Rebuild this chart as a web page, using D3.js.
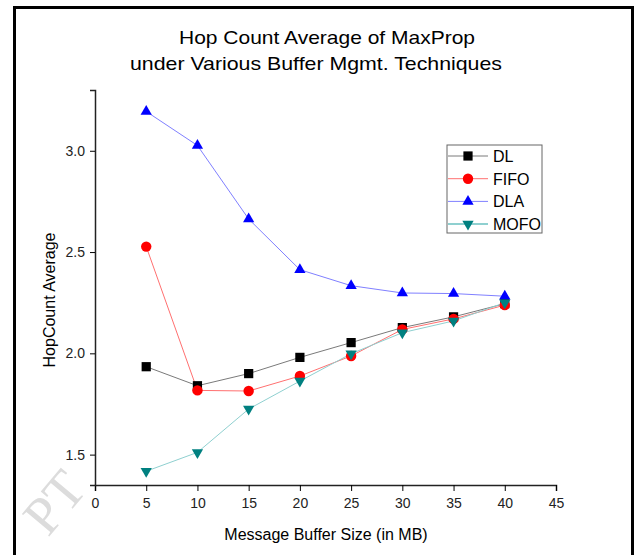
<!DOCTYPE html>
<html>
<head>
<meta charset="utf-8">
<script src="https://cdn.jsdelivr.net/npm/d3@7"></script>
<style>
  body { margin: 0; background: #fff; }
  text { font-family: "Liberation Sans", Arial, sans-serif; }
</style>
</head>
<body>
<div id="chart"></div>
<script>
// data
const bufferSizes = [5, 10, 15, 20, 25, 30, 35, 40];
const dlValues   = [1.934, 1.840, 1.900, 1.980, 2.053, 2.127, 2.180, 2.245];
const fifoValues = [2.527, 1.817, 1.814, 1.888, 1.987, 2.118, 2.170, 2.238];
const dlaValues  = [3.194, 3.026, 2.663, 2.413, 2.334, 2.298, 2.295, 2.282];
const mofoValues = [1.418, 1.511, 1.725, 1.863, 1.998, 2.102, 2.160, 2.250];
const seriesNames = ["DL", "FIFO", "DLA", "MOFO"];
const xTicks = [0, 5, 10, 15, 20, 25, 30, 35, 40, 45];
const yTicks = [1.5, 2.0, 2.5, 3.0];

const width = 638;
const height = 555;
const margin = {left: 95, right: 82, top: 90, bottom: 70};

const series = [
  {name: seriesNames[0], values: dlValues,   line: "#7a7a7a", fill: "#000000", shape: d3.symbolSquare,   size: 85,  rot: 0},
  {name: seriesNames[1], values: fifoValues, line: "#ff7070", fill: "#ff0000", shape: d3.symbolCircle,   size: 85,  rot: 0},
  {name: seriesNames[2], values: dlaValues,  line: "#8080ff", fill: "#0000ff", shape: d3.symbolTriangle, size: 55,  rot: 0},
  {name: seriesNames[3], values: mofoValues, line: "#8fd0d0", fill: "#008080", shape: d3.symbolTriangle, size: 55,  rot: 180}
];

const svg = d3.select("#chart")
  .append("svg")
  .attr("width", width)
  .attr("height", height);

// faint watermark of the source paper
svg.append("text")
  .attr("transform", "translate(48,538) rotate(-50)")
  .attr("font-size", 54)
  .attr("fill", "#dcdcdc")
  .style("font-family", "'Liberation Serif', serif")
  .text("PT");

// outer frame
svg.append("rect")
  .attr("x", 14.5).attr("y", 7.5)
  .attr("width", 618).attr("height", 600)
  .attr("fill", "none")
  .attr("stroke", "#000")
  .attr("stroke-width", 3);

// scales
const x = d3.scaleLinear().domain([0, 45]).range([margin.left, 556]);
const y = d3.scaleLinear().domain([1.35, 3.3]).range([485, margin.top]);

// title
svg.append("text")
  .attr("x", 327).attr("y", 44)
  .attr("text-anchor", "middle")
  .attr("font-size", 19)
  .attr("textLength", 296).attr("lengthAdjust", "spacingAndGlyphs")
  .text("Hop Count Average of MaxProp");
svg.append("text")
  .attr("x", 316).attr("y", 70)
  .attr("text-anchor", "middle")
  .attr("font-size", 19)
  .attr("textLength", 372).attr("lengthAdjust", "spacingAndGlyphs")
  .text("under Various Buffer Mgmt. Techniques");

// x axis with minor ticks
const xAxis = svg.append("g").attr("transform", `translate(0,485)`);
xAxis.call(d3.axisBottom(x).tickValues(d3.range(2.5, 45, 5)).tickSize(4).tickFormat(""));
xAxis.call(d3.axisBottom(x).tickValues(xTicks).tickSize(6).tickPadding(7).tickFormat(d3.format("d")));
xAxis.selectAll(".domain").attr("stroke", "#222").attr("stroke-width", 1.5);
xAxis.selectAll("text").attr("font-size", 14).attr("fill", "#222")
  .style("font-family", "'Liberation Sans', Arial, sans-serif");

// y axis with minor ticks
const yAxis = svg.append("g").attr("transform", `translate(${margin.left},0)`);
yAxis.call(d3.axisLeft(y).tickValues([1.75, 2.25, 2.75, 3.25]).tickSize(3).tickFormat(""));
yAxis.call(d3.axisLeft(y).tickValues(yTicks).tickSize(5).tickPadding(5).tickFormat(d3.format(".1f")));
yAxis.selectAll(".domain").attr("stroke", "#222").attr("stroke-width", 1.5);
yAxis.selectAll("text").attr("font-size", 14).attr("fill", "#222")
  .style("font-family", "'Liberation Sans', Arial, sans-serif");

// axis labels
svg.append("text")
  .attr("x", 326).attr("y", 540)
  .attr("text-anchor", "middle")
  .attr("font-size", 16)
  .text("Message Buffer Size (in MB)");
svg.append("text")
  .attr("transform", "translate(55,300) rotate(-90)")
  .attr("text-anchor", "middle")
  .attr("font-size", 16)
  .text("HopCount Average");

// lines and markers
const line = d3.line()
  .x((d, i) => x(bufferSizes[i]))
  .y(d => y(d));

series.forEach(s => {
  svg.append("path")
    .datum(s.values)
    .attr("fill", "none")
    .attr("stroke", s.line)
    .attr("stroke-width", 1)
    .attr("d", line);
});

series.forEach(s => {
  svg.selectAll(null)
    .data(s.values)
    .enter()
    .append("path")
      .attr("d", d3.symbol().type(s.shape).size(s.size))
      .attr("transform", (d, i) => `translate(${x(bufferSizes[i])},${y(d)}) rotate(${s.rot})`)
      .attr("fill", s.fill);
});

// legend
const legend = svg.append("g").attr("transform", "translate(447,145)");
legend.append("rect")
  .attr("x", 0).attr("y", 0)
  .attr("width", 95).attr("height", 88)
  .attr("fill", "#fff")
  .attr("stroke", "#666")
  .attr("stroke-width", 1);

series.forEach((s, i) => {
  const ly = 11 + i * 22.7;
  legend.append("line")
    .attr("x1", 1).attr("x2", 41)
    .attr("y1", ly).attr("y2", ly)
    .attr("stroke", s.line)
    .attr("stroke-width", s.name === "MOFO" ? 2 : 1);
  legend.append("path")
    .attr("d", d3.symbol().type(s.shape).size(s.size))
    .attr("transform", `translate(21,${ly}) rotate(${s.rot})`)
    .attr("fill", s.fill);
  legend.append("text")
    .attr("x", 46).attr("y", ly + 6)
    .attr("font-size", 16)
    .text(s.name);
});
</script>
</body>
</html>
